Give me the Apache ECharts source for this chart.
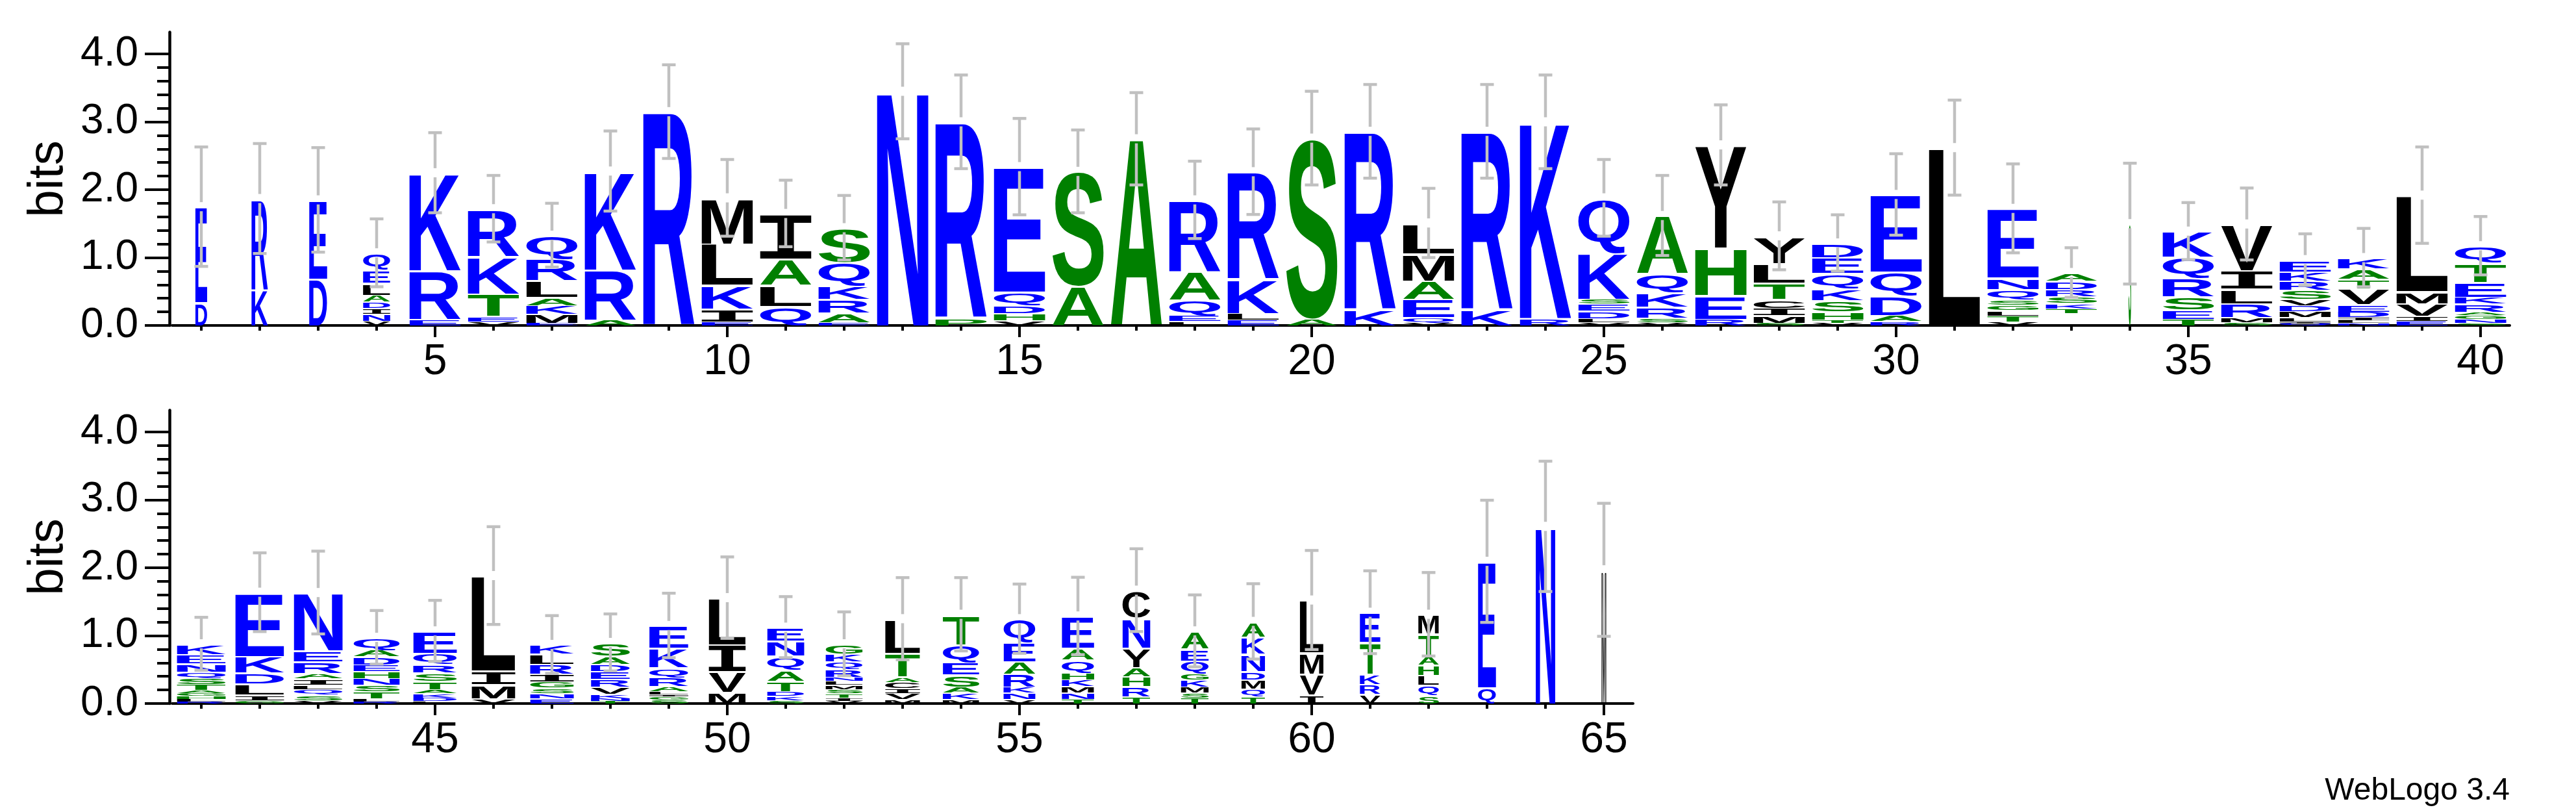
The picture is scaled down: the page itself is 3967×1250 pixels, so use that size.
<!DOCTYPE html>
<html>
<head>
<meta charset="utf-8">
<script src="https://cdn.jsdelivr.net/npm/echarts@6/dist/echarts.min.js"></script>
<style>
html,body{margin:0;padding:0;background:#fff;}
#chart{width:3967px;height:1250px;}
</style>
</head>
<body>
<div id="chart"></div>
<script>
// ---------------- DATA ----------------
// Each stack lists [residue, bits] from bottom to top.
const row1Stacks = [
 [['D',0.34],['E',1.41]],
 [['K',0.53],['R',1.34]],
 [['D',0.69],['E',1.16]],
 [['V',0.07],['N',0.10],['I',0.09],['D',0.09],['A',0.10],['L',0.18],['E',0.19],['Q',0.25]],
 [['E',0.09],['R',0.72],['K',1.44]],
 [['V',0.06],['E',0.08],['T',0.33],['K',0.55],['R',0.70]],
 [['E',0.04],['M',0.13],['K',0.13],['A',0.12],['L',0.25],['R',0.32],['Q',0.34]],
 [['A',0.085],['R',0.74],['K',1.45]],
 [['R',3.15]],
 [['E',0.06],['I',0.19],['K',0.35],['L',0.61],['M',0.67]],
 [['Q',0.29],['L',0.31],['A',0.39],['I',0.66]],
 [['E',0.05],['A',0.14],['R',0.20],['K',0.20],['Q',0.34],['S',0.51]],
 [['N',3.45]],
 [['P',0.11],['R',2.89]],
 [['V',0.08],['H',0.10],['D',0.12],['Q',0.20],['E',1.84]],
 [['A',0.58],['S',1.69]],
 [['A',2.75]],
 [['L',0.065],['E',0.085],['Q',0.23],['A',0.42],['R',1.05]],
 [['E',0.085],['L',0.10],['K',0.50],['R',1.58]],
 [['A',0.10],['S',2.66]],
 [['K',0.235],['R',2.625]],
 [['V',0.05],['Q',0.07],['E',0.27],['A',0.27],['M',0.40],['L',0.45]],
 [['K',0.235],['R',2.625]],
 [['R',0.11],['K',2.89]],
 [['V',0.05],['L',0.06],['D',0.11],['E',0.10],['S',0.07],['K',0.68],['Q',0.81]],
 [['V',0.05],['S',0.065],['R',0.16],['K',0.215],['Q',0.28],['A',0.85]],
 [['R',0.10],['E',0.35],['H',0.70],['Y',1.51]],
 [['S',0.04],['M',0.11],['I',0.11],['C',0.13],['T',0.24],['L',0.29],['Y',0.40]],
 [['V',0.04],['T',0.045],['H',0.12],['S',0.17],['K',0.18],['Q',0.22],['E',0.23],['D',0.21]],
 [['R',0.065],['A',0.09],['D',0.29],['Q',0.345],['E',1.14]],
 [['L',2.62]],
 [['V',0.06],['T',0.085],['L',0.08],['G',0.08],['S',0.075],['Q',0.16],['N',0.165],['E',1.02]],
 [['',0.18],['T',0.07],['K',0.08],['S',0.10],['R',0.11],['D',0.12],['A',0.12]],
 [['S',1.5]],
 [['T',0.10],['E',0.135],['S',0.195],['R',0.27],['Q',0.31],['K',0.38]],
 [['S',0.05],['M',0.07],['R',0.21],['L',0.215],['I',0.27],['V',0.68]],
 [['Q',0.03],['I',0.03],['L',0.06],['M',0.09],['D',0.09],['V',0.09],['S',0.14],['R',0.13],['K',0.13],['E',0.18]],
 [['N',0.035],['L',0.04],['I',0.045],['D',0.085],['E',0.11],['V',0.23],['T',0.14],['A',0.155],['K',0.16]],
 [['E',0.07],['I',0.07],['V',0.19],['M',0.18],['L',1.41]],
 [['S',0.035],['N',0.06],['G',0.06],['A',0.05],['R',0.12],['K',0.10],['E',0.22],['T',0.28],['Q',0.25]]
];
const row1Errors = [0.88,0.81,0.77,0.50,0.59,0.49,0.47,0.59,0.69,0.565,0.49,0.475,0.70,0.69,0.71,0.61,0.68,0.57,0.63,0.69,
                    0.69,0.51,0.69,0.69,0.565,0.59,0.59,0.50,0.415,0.60,0.70,0.655,0.365,0.89,0.42,0.53,0.38,0.43,0.71,0.43];
const row1Widths = [0.23,0.32,0.35,0.53,1,1,1,1,1,1,1,1,1,1,1,1,1,1,1,1,
                    1,1,1,1,1,1,1,1,1,1,1,1,1,0.05,1,1,1,1,1,1];

const row2Stacks = [
 [['R',0.025],['L',0.04],['H',0.045],['G',0.045],['A',0.05],['T',0.085],['S',0.09],['Q',0.09],['N',0.125],['E',0.135],['K',0.15]],
 [['G',0.05],['I',0.08],['L',0.165],['D',0.16],['K',0.245],['E',0.94]],
 [['V',0.05],['S',0.085],['Q',0.08],['L',0.065],['I',0.09],['A',0.08],['R',0.17],['E',0.16],['N',0.855]],
 [['R',0.03],['L',0.045],['T',0.11],['S',0.09],['N',0.10],['H',0.10],['E',0.10],['D',0.12],['A',0.10],['Q',0.18]],
 [['L',0.035],['D',0.055],['K',0.06],['A',0.06],['T',0.125],['S',0.125],['R',0.125],['Q',0.165],['E',0.32]],
 [['V',0.08],['M',0.205],['I',0.20],['L',1.40]],
 [['E',0.08],['N',0.07],['S',0.085],['G',0.095],['I',0.11],['R',0.145],['L',0.155],['K',0.13]],
 [['T',0.04],['N',0.04],['K',0.06],['V',0.11],['R',0.115],['E',0.115],['D',0.105],['A',0.12],['S',0.195]],
 [['S',0.06],['G',0.045],['I',0.025],['L',0.05],['A',0.08],['R',0.13],['Q',0.145],['K',0.285],['E',0.33]],
 [['M',0.17],['V',0.305],['I',0.40],['L',0.685]],
 [['S',0.05],['K',0.065],['D',0.07],['T',0.15],['A',0.16],['Q',0.21],['N',0.225],['E',0.195]],
 [['V',0.04],['I',0.05],['T',0.065],['S',0.06],['M',0.06],['L',0.06],['N',0.06],['R',0.115],['Q',0.11],['K',0.12],['G',0.14]],
 [['M',0.065],['V',0.09],['I',0.075],['C',0.09],['A',0.08],['T',0.35],['L',0.50]],
 [['M',0.065],['K',0.095],['A',0.09],['S',0.18],['E',0.185],['Q',0.26],['T',0.44]],
 [['V',0.065],['N',0.095],['K',0.085],['R',0.195],['A',0.185],['E',0.28],['Q',0.345]],
 [['T',0.07],['N',0.095],['M',0.09],['K',0.10],['H',0.10],['Q',0.19],['A',0.18],['E',0.465]],
 [['T',0.105],['R',0.15],['H',0.15],['A',0.135],['Y',0.285],['N',0.44],['C',0.405]],
 [['T',0.085],['S',0.08],['M',0.085],['K',0.10],['G',0.09],['Q',0.195],['E',0.175],['A',0.26]],
 [['T',0.105],['Q',0.115],['M',0.135],['D',0.125],['N',0.255],['K',0.245],['A',0.23]],
 [['I',0.13],['V',0.31],['M',0.315],['L',0.77]],
 [['V',0.14],['R',0.15],['K',0.155],['T',0.46],['E',0.44]],
 [['S',0.125],['Q',0.15],['L',0.15],['H',0.15],['A',0.14],['T',0.315],['M',0.285]],
 [['Q',0.24],['E',1.855]],
 [['N',2.61]],
 [['M',1.97]]
];
const row2Errors = [0.39,0.58,0.61,0.395,0.45,0.72,0.425,0.42,0.475,0.60,0.45,0.47,0.605,0.54,0.51,0.57,0.61,0.53,0.555,0.73,
                    0.61,0.615,0.90,0.96,0.98];
const row2Widths = [0.95,0.95,0.95,0.9,0.85,0.85,0.85,0.76,0.76,0.72,0.72,0.72,0.68,0.71,0.62,0.63,0.54,0.54,0.46,0.46,
                    0.40,0.40,0.35,0.38,0.09];

const row1Start = 1, row2Start = 41;
const yMajorTicks = [0, 1, 2, 3, 4];
const yMinorTicks = [0.2,0.4,0.6,0.8,1.2,1.4,1.6,1.8,2.2,2.4,2.6,2.8,3.2,3.4,3.6,3.8];
const row1LabelTicks = [5,10,15,20,25,30,35,40];
const row2LabelTicks = [45,50,55,60,65];
const yMax = 4.32;

// ---------------- STYLE ----------------
const BLUE = '#0000ff', GREEN = '#008000', BLACK = '#000000', ERR = '#c0c0c0';
const colorOf = ch => ('RKDENQ'.includes(ch) ? BLUE : ('SGHTAP'.includes(ch) ? GREEN : BLACK));
const fontOf = ch => (ch === 'I' ? 'bold 200px "Liberation Mono"' : 'bold 200px "Liberation Sans"');
const STACK_FRAC = 79 / 90;
const TXT = 'Liberation Sans';

const mctx = document.createElement('canvas').getContext('2d');
const inkCache = {};
function inkBox(ch) {
  if (!inkCache[ch]) {
    mctx.font = fontOf(ch);
    mctx.textBaseline = 'middle';
    mctx.textAlign = 'left';
    const m = mctx.measureText(ch);
    inkCache[ch] = { l: -m.actualBoundingBoxLeft, r: m.actualBoundingBoxRight,
                     t: -m.actualBoundingBoxAscent, b: m.actualBoundingBoxDescent };
  }
  return inkCache[ch];
}

function buildItems(stacks, start, widths) {
  const items = [];
  stacks.forEach((st, i) => {
    let y = 0;
    st.forEach(([ch, h]) => {
      items.push({ ch, pos: start + i, y0: y, y1: y + h, w: widths[i] });
      y += h;
    });
  });
  return items;
}
function buildErr(stacks, start, errs) {
  return stacks.map((st, i) => [start + i, st.reduce((s, a) => s + a[1], 0), errs[i]]);
}

function letterRenderer(items) {
  return function (params, api) {
    const it = items[params.dataIndex];
    if (!it.ch) return null;
    const half = it.w * STACK_FRAC / 2;
    const tl = api.coord([it.pos - half, it.y1]);
    const br = api.coord([it.pos + half, it.y0]);
    let rx = tl[0], ry = tl[1], rw = br[0] - tl[0], rh = br[1] - tl[1];
    const pad = Math.min(3, rh * 0.2);
    ry += pad; rh -= pad;
    const b = inkBox(it.ch);
    const sx = rw / (b.r - b.l), sy = rh / (b.b - b.t);
    return {
      type: 'text', silent: true,
      x: rx - sx * b.l, y: ry - sy * b.t, scaleX: sx, scaleY: sy,
      style: { text: it.ch, x: 0, y: 0, font: fontOf(it.ch), fill: colorOf(it.ch),
               align: 'left', verticalAlign: 'middle', textAlign: 'left', textVerticalAlign: 'middle' }
    };
  };
}
function errRenderer(params, api) {
  const x = api.value(0), top = api.value(1), e = api.value(2);
  const pT = api.coord([x, top]), pH = api.coord([x, top + e]), pL = api.coord([x, top - e]);
  const cx = pT[0], gap = 7, cap = 10.5;
  const st = { stroke: ERR, lineWidth: 4.5 };
  return {
    type: 'group', silent: true,
    children: [
      { type: 'line', shape: { x1: cx, y1: pH[1], x2: cx, y2: pT[1] - gap }, style: st },
      { type: 'line', shape: { x1: cx, y1: pT[1] + gap, x2: cx, y2: pL[1] }, style: st },
      { type: 'line', shape: { x1: cx - cap, y1: pH[1], x2: cx + cap, y2: pH[1] }, style: st },
      { type: 'line', shape: { x1: cx - cap, y1: pL[1], x2: cx + cap, y2: pL[1] }, style: st }
    ]
  };
}

const items1 = buildItems(row1Stacks, row1Start, row1Widths);
const items2 = buildItems(row2Stacks, row2Start, row2Widths);
const err1 = buildErr(row1Stacks, row1Start, row1Errors);
const err2 = buildErr(row2Stacks, row2Start, row2Errors);
const pos1 = row1Stacks.map((s, i) => row1Start + i);
const pos2 = row2Stacks.map((s, i) => row2Start + i);

function xAxes(gi, min, max, posTicks, labTicks) {
  return [
    { gridIndex: gi, type: 'value', min, max, position: 'bottom',
      axisLine: { show: true, lineStyle: { color: BLACK, width: 4 } },
      axisTick: { show: true, customValues: posTicks, length: 8, lineStyle: { color: BLACK, width: 4 } },
      axisLabel: { show: false }, splitLine: { show: false } },
    { gridIndex: gi, type: 'value', min, max, position: 'bottom',
      axisLine: { show: false },
      axisTick: { show: true, customValues: labTicks, length: 18, lineStyle: { color: BLACK, width: 4 } },
      axisLabel: { show: true, customValues: labTicks, fontSize: 66, fontFamily: TXT, color: BLACK, margin: 24 },
      splitLine: { show: false } }
  ];
}
function yAxes(gi) {
  return [
    { gridIndex: gi, type: 'value', min: 0, max: yMax, position: 'left', offset: 4,
      axisLine: { show: true, lineStyle: { color: BLACK, width: 4.5 } },
      axisTick: { show: true, customValues: yMajorTicks, length: 38, lineStyle: { color: BLACK, width: 4 } },
      axisLabel: { show: true, customValues: yMajorTicks, formatter: v => Number(v).toFixed(1),
                   fontSize: 64, fontFamily: TXT, color: BLACK, margin: 48 },
      splitLine: { show: false } },
    { gridIndex: gi, type: 'value', min: 0, max: yMax, position: 'left', offset: 4,
      axisLine: { show: false },
      axisTick: { show: true, customValues: yMinorTicks, length: 19, lineStyle: { color: BLACK, width: 4 } },
      axisLabel: { show: false }, splitLine: { show: false } },
    { gridIndex: gi, type: 'value', min: 0, max: 4, position: 'left', offset: 4,
      axisLine: { show: false }, axisTick: { show: false }, axisLabel: { show: false }, splitLine: { show: false },
      name: 'bits', nameLocation: 'middle', nameRotate: 90, nameGap: 148,
      nameTextStyle: { fontSize: 76, fontFamily: TXT, color: BLACK } }
  ];
}

const chart = echarts.init(document.getElementById('chart'), null, { renderer: 'canvas' });
chart.setOption({
  animation: false,
  backgroundColor: '#ffffff',
  grid: [
    { left: 265, top: 49.6, width: 3600, height: 451.4 },
    { left: 265, top: 631.6, width: 2250, height: 451.4 }
  ],
  xAxis: [].concat(xAxes(0, 0.5, 40.5, pos1, row1LabelTicks), xAxes(1, 40.5, 65.5, pos2, row2LabelTicks)),
  yAxis: [].concat(yAxes(0), yAxes(1)),
  graphic: [
    { type: 'text', right: 102, bottom: 8, silent: true,
      style: { text: 'WebLogo 3.4', font: '48px "Liberation Sans"', fill: BLACK } }
  ],
  series: [
    { type: 'custom', name: 'letters1', xAxisIndex: 0, yAxisIndex: 0, renderItem: letterRenderer(items1),
      data: items1.map(it => [it.pos, it.y0, it.y1]), encode: { x: 0, y: [1, 2] }, clip: false },
    { type: 'custom', name: 'letters2', xAxisIndex: 2, yAxisIndex: 3, renderItem: letterRenderer(items2),
      data: items2.map(it => [it.pos, it.y0, it.y1]), encode: { x: 0, y: [1, 2] }, clip: false },
    { type: 'custom', name: 'err1', xAxisIndex: 0, yAxisIndex: 0, renderItem: errRenderer,
      data: err1, encode: { x: 0, y: 1 }, clip: false, z: 5 },
    { type: 'custom', name: 'err2', xAxisIndex: 2, yAxisIndex: 3, renderItem: errRenderer,
      data: err2, encode: { x: 0, y: 1 }, clip: false, z: 5 }
  ]
});
</script>
</body>
</html>
